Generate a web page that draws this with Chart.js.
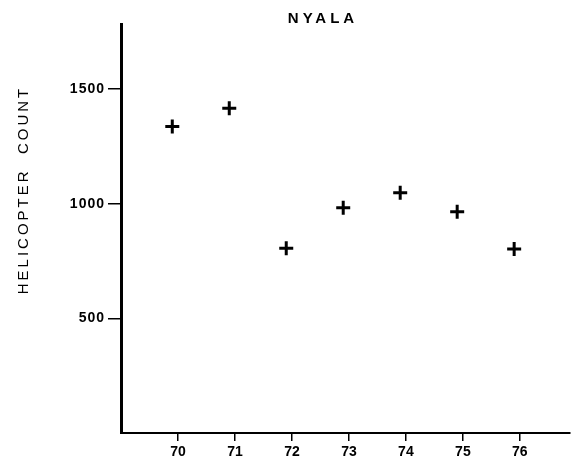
<!DOCTYPE html>
<html>
<head>
<meta charset="utf-8">
<script src="https://cdn.jsdelivr.net/npm/chart.js@4/dist/chart.umd.min.js"></script>
<style>
  html, body { margin: 0; padding: 0; background: #fff; }
  #wrap { width: 571px; height: 461px; }
</style>
</head>
<body>
<div id="wrap"><canvas id="c" width="571" height="461"></canvas></div>
<script>
// Annual helicopter counts of nyala, survey years 1970-1976
const chartTitle = 'NYALA';
const yAxisTitle = 'HELICOPTER  COUNT';
const surveyYears = [69.9, 70.9, 71.9, 72.9, 73.9, 74.9, 75.9];
const helicopterCounts = [1337, 1417, 806, 983, 1048, 965, 803];
const xTickValues = [70, 71, 72, 73, 74, 75, 76];
const yTickValues = [500, 1000, 1500];

const FONT = '"Liberation Sans", Arial, Helvetica, sans-serif';

const points = surveyYears.map((x, i) => ({ x: x, y: helicopterCounts[i] }));

// Spacing for axis labels: y labels drawn before datasets, x labels after
const spacingPlugin = {
  id: 'spacing',
  beforeDraw(chart) { chart.ctx.letterSpacing = '1px'; },
  afterDatasetsDraw(chart) { chart.ctx.letterSpacing = '0px'; },
  afterDraw(chart) {
    const ctx = chart.ctx;
    ctx.save();
    ctx.fillStyle = '#000';
    ctx.textBaseline = 'middle';
    ctx.textAlign = 'center';
    // chart heading
    ctx.letterSpacing = '4px';
    ctx.font = 'bold 15px ' + FONT;
    ctx.fillText(chartTitle, 323, 19);
    // vertical axis title
    ctx.letterSpacing = '3px';
    ctx.font = '15px ' + FONT;
    ctx.translate(24, 190);
    ctx.rotate(-Math.PI / 2);
    ctx.fillText(yAxisTitle, 0, 0);
    ctx.restore();
    ctx.letterSpacing = '0px';
  }
};

new Chart(document.getElementById('c'), {
  type: 'scatter',
  data: {
    datasets: [{
      data: points,
      pointStyle: 'cross',
      pointRadius: 7,
      pointHoverRadius: 7,
      borderColor: '#000',
      backgroundColor: '#000',
      pointBorderWidth: 3
    }]
  },
  options: {
    responsive: false,
    animation: false,
    events: [],
    layout: { autoPadding: false, padding: { top: 24, right: 1, left: 0, bottom: 0 } },
    plugins: {
      legend: { display: false },
      title: { display: false },
      tooltip: { enabled: false }
    },
    scales: {
      x: {
        type: 'linear',
        min: 69,
        max: 76.88,
        afterBuildTicks(scale) { scale.ticks = xTickValues.map(v => ({ value: v })); },
        afterFit(scale) { scale.height = 28; },
        border: { display: true, color: '#000', width: 2 },
        grid: { drawOnChartArea: false, drawTicks: true, tickLength: 8, color: '#000', lineWidth: 1.5 },
        ticks: {
          z: 1,
          color: '#000',
          padding: 3,
          maxRotation: 0,
          autoSkip: false,
          font: { family: FONT, size: 14, weight: 'bold' },
          callback: v => String(v)
        }
      },
      y: {
        type: 'linear',
        min: 0,
        max: 1784,
        afterBuildTicks(scale) { scale.ticks = yTickValues.map(v => ({ value: v })); },
        afterFit(scale) { scale.width = 121; },
        border: { display: true, color: '#000', width: 3 },
        grid: { drawOnChartArea: false, drawTicks: true, tickLength: 13, color: '#000', lineWidth: 1.5 },
        ticks: {
          color: '#000',
          padding: 3,
          autoSkip: false,
          font: { family: FONT, size: 14, weight: 'bold' },
          callback: v => String(v)
        }
      }
    }
  },
  plugins: [spacingPlugin]
});
</script>
</body>
</html>
